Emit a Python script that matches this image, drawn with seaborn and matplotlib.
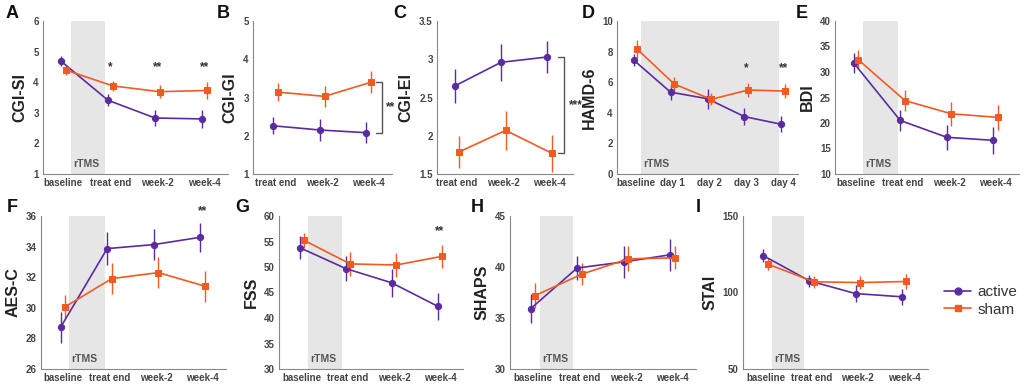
import matplotlib
matplotlib.use('Agg')
import matplotlib.pyplot as plt
from matplotlib.lines import Line2D
from matplotlib.ticker import FormatStrFormatter
import pandas as pd
import seaborn as sns

# ---- dados ----
tp4 = ['baseline', 'treat end', 'week-2', 'week-4']
tp3 = ['treat end', 'week-2', 'week-4']
tp_days = ['baseline', 'day 1', 'day 2', 'day 3', 'day 4']

cgisi_act = [4.69, 3.41, 2.83, 2.80]
cgisi_act_err = [0.16, 0.20, 0.27, 0.30]
cgisi_sham = [4.40, 3.88, 3.69, 3.73]
cgisi_sham_err = [0.16, 0.17, 0.21, 0.29]

cgigi_act = [2.26, 2.15, 2.08]
cgigi_act_err = [0.22, 0.28, 0.27]
cgigi_sham = [3.14, 3.03, 3.40]
cgigi_sham_err = [0.24, 0.28, 0.29]

cgiei_act = [2.65, 2.96, 3.03]
cgiei_act_err = [0.22, 0.24, 0.21]
cgiei_sham = [1.79, 2.07, 1.77]
cgiei_sham_err = [0.21, 0.25, 0.24]

hamd_act = [7.45, 5.35, 4.92, 3.75, 3.25]
hamd_act_err = [0.38, 0.50, 0.65, 0.57, 0.52]
hamd_sham = [8.15, 5.88, 4.88, 5.49, 5.42]
hamd_sham_err = [0.60, 0.45, 0.40, 0.46, 0.47]

bdi_act = [31.8, 20.5, 17.2, 16.6]
bdi_act_err = [2.0, 2.1, 2.5, 2.6]
bdi_sham = [32.4, 24.4, 21.8, 21.1]
bdi_sham_err = [1.9, 2.0, 2.4, 2.5]

aes_act = [28.72, 33.87, 34.13, 34.61]
aes_act_err = [0.99, 1.09, 1.03, 0.95]
aes_sham = [30.07, 31.91, 32.30, 31.41]
aes_sham_err = [0.76, 1.00, 1.00, 1.00]

fss_act = [53.8, 49.7, 46.9, 42.3]
fss_act_err = [2.25, 2.5, 2.7, 2.7]
fss_sham = [55.2, 50.6, 50.4, 52.1]
fss_sham_err = [1.4, 2.3, 2.35, 2.2]

shaps_act = [35.9, 39.9, 40.5, 41.2]
shaps_act_err = [1.43, 1.17, 1.55, 1.58]
shaps_sham = [37.2, 39.3, 40.8, 40.9]
shaps_sham_err = [1.19, 1.06, 1.22, 1.14]

stai_act = [124.1, 107.6, 99.3, 97.2]
stai_act_err = [4.3, 4.1, 5.4, 5.3]
stai_sham = [118.5, 107.0, 106.5, 107.2]
stai_sham_err = [3.8, 3.8, 4.0, 4.6]

ROXO = '#5a2ca0'
LARANJA = '#f15a22'
CINZA = '#555555'

sns.set_style('white')
plt.rcParams['font.family'] = ['Liberation Sans', 'DejaVu Sans']
plt.rcParams['font.weight'] = 'bold'


def painel(ax, labels, act, act_err, sham, sham_err, ylim, yticks, ylabel,
           xlim, shade=None, stars=None, star_y=None):
    n = len(labels)
    df = pd.DataFrame({
        'x': [i - 0.05 for i in range(n)] + [i + 0.05 for i in range(n)],
        'y': act + sham,
        'grupo': ['active'] * n + ['sham'] * n,
    })
    if shade is not None:
        ax.axvspan(shade[0], shade[1], color='#e6e6e6', lw=0, zorder=0)
        ax.text(shade[0] + 0.05, ylim[0] + (ylim[1] - ylim[0]) * 0.035, 'rTMS',
                fontsize=7.5, color=CINZA, fontweight='bold', ha='left', va='bottom')
    sns.lineplot(data=df, x='x', y='y', hue='grupo', style='grupo',
                 markers={'active': 'o', 'sham': 's'}, dashes=False,
                 palette={'active': ROXO, 'sham': LARANJA}, markersize=4.5,
                 linewidth=1.2, legend=False, ax=ax, zorder=3)
    for ln in ax.lines:
        ln.set_markeredgecolor(ln.get_color())
    ax.errorbar([i - 0.05 for i in range(n)], act, yerr=act_err, fmt='none',
                ecolor=ROXO, elinewidth=1, capsize=0, zorder=2)
    ax.errorbar([i + 0.05 for i in range(n)], sham, yerr=sham_err, fmt='none',
                ecolor=LARANJA, elinewidth=1, capsize=0, zorder=2)
    ax.set_xlim(xlim)
    ax.set_ylim(ylim)
    ax.set_xticks(range(n))
    ax.set_xticklabels(labels)
    ax.set_yticks(yticks)
    ax.yaxis.set_major_formatter(FormatStrFormatter('%g'))
    ax.set_xlabel('')
    ax.set_ylabel(ylabel, fontsize=11.5, fontweight='bold', color='#222222', labelpad=4)
    for s in ['top', 'right']:
        ax.spines[s].set_visible(False)
    for s in ['left', 'bottom']:
        ax.spines[s].set_color('#888888')
        ax.spines[s].set_linewidth(0.8)
    ax.tick_params(direction='in', length=2, width=0.7, colors='#888888',
                   labelcolor='#444444', labelsize=7, pad=3)
    for t in ax.get_xticklabels() + ax.get_yticklabels():
        t.set_fontweight('bold')
    if stars:
        for i, s in stars:
            ax.text(i, star_y, s, ha='center', va='center', fontsize=8.5,
                    color='#333333', clip_on=False)


def chave(ax, x, y0, y1, txt, tx):
    ax.plot([x - 0.13, x, x, x - 0.13], [y1, y1, y0, y0], color='#555555',
            lw=1, clip_on=False)
    ax.text(tx, (y0 + y1) / 2, txt, ha='left', va='center', fontsize=8.5,
            color='#333333', clip_on=False)


fig = plt.figure(figsize=(10.24, 3.88), dpi=100)
top_b, h = 1 - 174 / 388, 153 / 388
bot_b = 1 - 369 / 388

axA = fig.add_axes([43 / 1024, top_b, 185 / 1024, h])
axB = fig.add_axes([253 / 1024, top_b, 139 / 1024, h])
axC = fig.add_axes([437 / 1024, top_b, 136 / 1024, h])
axD = fig.add_axes([617 / 1024, top_b, 181 / 1024, h])
axE = fig.add_axes([835 / 1024, top_b, 184 / 1024, h])
axF = fig.add_axes([41 / 1024, bot_b, 185 / 1024, h])
axG = fig.add_axes([279 / 1024, bot_b, 184 / 1024, h])
axH = fig.add_axes([510 / 1024, bot_b, 186 / 1024, h])
axI = fig.add_axes([743 / 1024, bot_b, 185 / 1024, h])

painel(axA, tp4, cgisi_act, cgisi_act_err, cgisi_sham, cgisi_sham_err,
       (1, 6), [1, 2, 3, 4, 5, 6], 'CGI-SI', (-0.43, 3.5), shade=(0.17, 0.88),
       stars=[(1, '*'), (2, '**'), (3, '**')], star_y=4.5)
painel(axB, tp3, cgigi_act, cgigi_act_err, cgigi_sham, cgigi_sham_err,
       (1, 5), [1, 2, 3, 4, 5], 'CGI-GI', (-0.49, 2.5))
chave(axB, 2.28, 2.08, 3.40, '**', 2.36)
painel(axC, tp3, cgiei_act, cgiei_act_err, cgiei_sham, cgiei_sham_err,
       (1.5, 3.5), [1.5, 2, 2.5, 3, 3.5], 'CGI-EI', (-0.43, 2.5))
chave(axC, 2.31, 1.77, 3.03, '***', 2.42)
painel(axD, tp_days, hamd_act, hamd_act_err, hamd_sham, hamd_sham_err,
       (0, 10), [0, 2, 4, 6, 8, 10], 'HAMD-6', (-0.5, 4.4), shade=(0.16, 3.89),
       stars=[(3, '*'), (4, '**')], star_y=6.9)
painel(axE, tp4, bdi_act, bdi_act_err, bdi_sham, bdi_sham_err,
       (10, 40), [10, 15, 20, 25, 30, 35, 40], 'BDI', (-0.45, 3.5), shade=(0.15, 0.9))
painel(axF, tp4, aes_act, aes_act_err, aes_sham, aes_sham_err,
       (26, 36), [26, 28, 30, 32, 34, 36], 'AES-C', (-0.47, 3.5), shade=(0.13, 0.9),
       stars=[(3, '**')], star_y=36.3)
painel(axG, tp4, fss_act, fss_act_err, fss_sham, fss_sham_err,
       (30, 60), [30, 35, 40, 45, 50, 55, 60], 'FSS', (-0.5, 3.5), shade=(0.12, 0.87),
       stars=[(3, '**')], star_y=57)
painel(axH, tp4, shaps_act, shaps_act_err, shaps_sham, shaps_sham_err,
       (30, 45), [30, 35, 40, 45], 'SHAPS', (-0.49, 3.5), shade=(0.15, 0.86))
painel(axI, tp4, stai_act, stai_act_err, stai_sham, stai_sham_err,
       (50, 150), [50, 100, 150], 'STAI', (-0.49, 3.52), shade=(0.13, 0.83))

# letras dos paineis
letras = [('A', 12, 14), ('B', 223, 14), ('C', 400, 14), ('D', 588, 14), ('E', 802, 14),
          ('F', 12, 207), ('G', 242, 207), ('H', 477, 207), ('I', 698, 207)]
for l, x, y in letras:
    fig.text(x / 1024, 1 - y / 388, l, fontsize=13, fontweight='bold',
             color='#111111', ha='center', va='center')

# legenda
handles = [Line2D([], [], color=ROXO, marker='o', markersize=5, lw=1.2),
           Line2D([], [], color=LARANJA, marker='s', markersize=5, lw=1.2)]
leg = fig.legend(handles, ['active', 'sham'], loc='center left',
                 bbox_to_anchor=(930 / 1024, 1 - 301 / 388), frameon=False,
                 handlelength=1.8, handletextpad=0.4, labelspacing=0.2,
                 prop={'size': 11, 'weight': 'normal'})
for t in leg.get_texts():
    t.set_color('#333333')

fig.savefig('out.png', dpi=100)
